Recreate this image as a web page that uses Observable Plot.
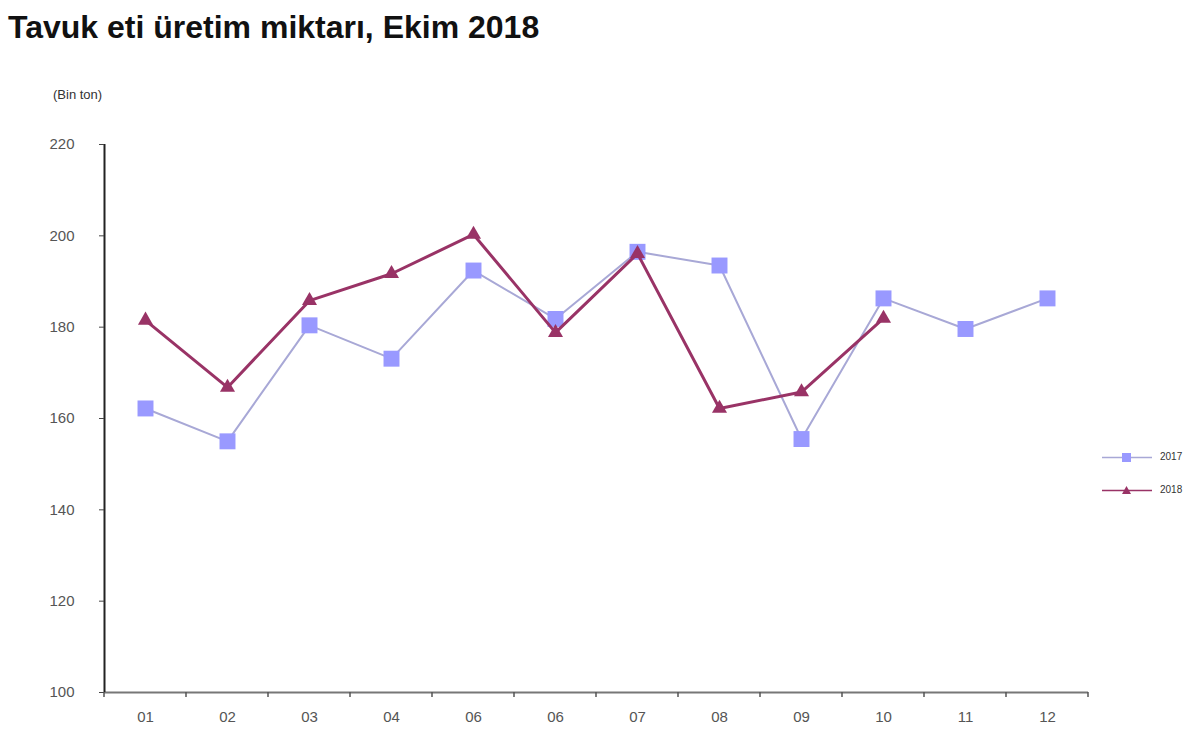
<!DOCTYPE html>
<html>
<head>
<meta charset="utf-8">
<script src="https://cdn.jsdelivr.net/npm/d3@7"></script>
<script src="https://cdn.jsdelivr.net/npm/@observablehq/plot@0.6"></script>
<style>
  html, body { margin: 0; padding: 0; background: #fff; }
  body { width: 1200px; height: 749px; position: relative; overflow: hidden; font-family: "Liberation Sans", Arial, sans-serif; }
  #title { position: relative; height: 60px; }
  #title span { position: absolute; left: 8px; top: 9px; font-size: 32px; font-weight: bold; color: #111; white-space: nowrap; }
  #unit { position: absolute; left: 53px; top: 87px; font-size: 13px; color: #333; }
  #legend { position: absolute; left: 1098px; top: 440px; font-size: 10px; color: #333; }
  #legend div { height: 33px; display: flex; align-items: center; }
  #legend svg { margin-right: 4px; }
</style>
</head>
<body>
<div id="title"><span>Tavuk eti üretim miktarı, Ekim 2018</span></div>
<div id="unit">(Bin ton)</div>
<div id="chart"></div>
<div id="legend"></div>
<script>
const months = ["01","02","03","04","05","06","07","08","09","10","11","12"];
const monthLabels = ["01","02","03","04","06","06","07","08","09","10","11","12"];
const values2017 = [162.2, 155.0, 180.4, 173.1, 192.4, 181.8, 196.5, 193.5, 155.5, 186.3, 179.6, 186.3];
const values2018 = [181.5, 166.8, 185.8, 191.7, 200.3, 178.8, 196.1, 162.2, 165.8, 181.9];
const yTicks = [100, 120, 140, 160, 180, 200, 220];
const seriesNames = ["2017", "2018"];

const c2017 = "#9999ff", l2017 = "#a8a8d6";
const c2018 = "#993366";

const d2017 = values2017.map((v, i) => ({month: months[i], value: v}));
const d2018 = values2018.map((v, i) => ({month: months[i], value: v}));

const W = 1200, H = 689, ML = 104, MR = 112, MT = 84, MB = 57;
const half = (W - ML - MR) / months.length / 2;

const chart = Plot.plot({
  width: W, height: H,
  marginLeft: ML, marginRight: MR, marginTop: MT, marginBottom: MB,
  style: {fontFamily: "'Liberation Sans', Arial, sans-serif", fontSize: "15px", color: "#333", background: "#fff"},
  x: {type: "band", domain: months, padding: 0, label: null},
  y: {domain: [100, 220], label: null},
  marks: [
    Plot.ruleY([100], {stroke: "#777", strokeWidth: 2}),
    Plot.ruleX([months[0]], {y1: 100, y2: 220, dx: -half, stroke: "#222", strokeWidth: 2}),
    Plot.axisY({ticks: yTicks, tickSize: 5, tickPadding: 25, stroke: "#444", fill: "#555", fontSize: 15, label: null}),
    Plot.axisX({tickSize: 0, tickPadding: 19, tickFormat: (d, i) => monthLabels[i], fill: "#555", fontSize: 15, label: null}),
    Plot.line(d2017, {x: "month", y: "value", stroke: l2017, strokeWidth: 2}),
    Plot.dot(d2017, {x: "month", y: "value", symbol: "square", r: 9, fill: c2017, stroke: "none"}),
    Plot.line(d2018, {x: "month", y: "value", stroke: c2018, strokeWidth: 3}),
    Plot.dot(d2018, {x: "month", y: "value", symbol: "triangle", r: 5.6, fill: c2018, stroke: "none"})
  ]
});
document.getElementById("chart").appendChild(chart);

// band boundary tick marks on the x axis
const svg = d3.select(chart);
const xs = chart.scale("x");
const ys = chart.scale("y");
const y0 = ys.apply(100);
const g = svg.append("g").attr("stroke", "#555").attr("stroke-width", 1.5);
months.forEach((m) => {
  const bx = xs.apply(m);
  g.append("line").attr("x1", bx).attr("x2", bx).attr("y1", y0).attr("y2", y0 + 5);
});
const endX = xs.apply(months[months.length - 1]) + xs.bandwidth;
g.append("line").attr("x1", endX).attr("x2", endX).attr("y1", y0).attr("y2", y0 + 5);

// legend
const legend = document.getElementById("legend");
const legendDefs = [
  {name: seriesNames[0], line: l2017, fill: c2017, sym: "sq"},
  {name: seriesNames[1], line: c2018, fill: c2018, sym: "tri"}
];
legendDefs.forEach(s => {
  const row = document.createElement("div");
  const shape = s.sym === "sq"
    ? `<rect x="24" y="5" width="9" height="9" fill="${s.fill}"/>`
    : `<path d="M28.5,5 L33,13 L24,13 Z" fill="${s.fill}"/>`;
  row.innerHTML = `<svg width="58" height="18"><line x1="4" x2="54" y1="9.5" y2="9.5" stroke="${s.line}" stroke-width="1.5"/>${shape}</svg><span>${s.name}</span>`;
  legend.appendChild(row);
});
</script>
</body>
</html>
